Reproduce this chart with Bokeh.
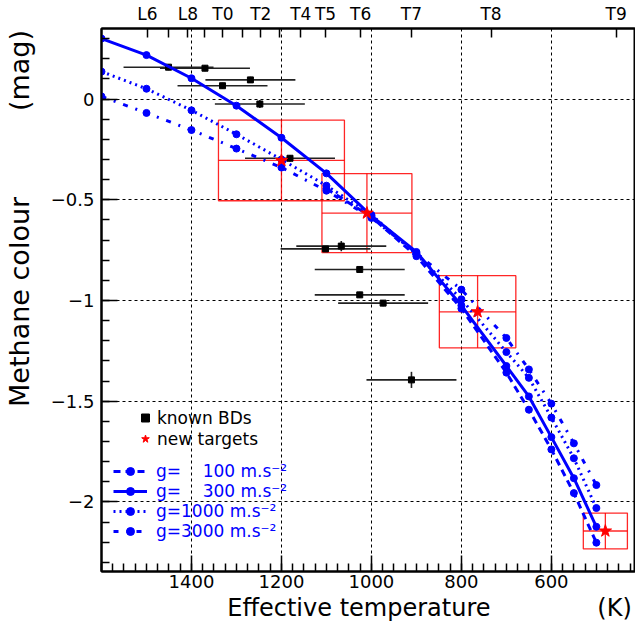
import numpy as np
from bokeh.plotting import figure
from bokeh.models import (Range1d, LinearAxis, FixedTicker, Legend, LegendItem)
from bokeh.embed import file_html
from bokeh.resources import INLINE

# ---------------- data ----------------
teff_model = [1600, 1500, 1400, 1300, 1200, 1100, 1000, 900, 800, 700, 650, 600, 550, 500]
col_g300 = [0.300, 0.218, 0.103, -0.033, -0.192, -0.369, -0.580, -0.759, -1.025,
            -1.325, -1.476, -1.678, -1.882, -2.123]
col_g1000 = [0.136, 0.051, -0.056, -0.175, -0.300, -0.430, -0.575, -0.770, -0.994,
             -1.256, -1.384, -1.581, -1.783, -2.030]
col_g3000 = [0.013, -0.069, -0.154, -0.246, -0.340, -0.455, -0.590, -0.765, -0.946,
             -1.186, -1.342, -1.512, -1.709, -1.916]
teff_g100 = [1100, 1000, 900, 800, 700, 650, 600, 550, 500]
col_g100 = [-0.445, -0.585, -0.780, -1.040, -1.358, -1.542, -1.739, -1.956, -2.202]

bd_teff = [1451, 1370, 1269, 1331, 1248, 1181, 1067, 1102, 1026, 1026, 974, 911]
bd_teff_err = [100, 100, 100, 100, 100, 100, 100, 100, 100, 100, 100, 100]
bd_col = [0.158, 0.153, 0.095, 0.066, -0.025, -0.294, -0.730, -0.744, -0.846,
          -0.972, -1.013, -1.394]
bd_col_err = [0.015, 0.015, 0.015, 0.015, 0.02, 0.016, 0.025, 0.01, 0.01,
              0.015, 0.015, 0.04]

nt_teff = [1200, 1010, 764, 480]
nt_teff_err = [140, 100, 85, 49]
nt_col = [-0.305, -0.566, -1.056, -2.144]
nt_col_err = [0.200, 0.196, 0.179, 0.089]

sp_teff = [1498, 1451, 1408, 1370, 1330, 1287, 1246, 1205, 1157, 1102, 1024, 911, 734, 456]
sp_labels = ["L6", "", "L8", "", "T0", "", "T2", "", "T4", "T5", "T6", "T7", "T8", "T9"]

x_ticks = [1400, 1200, 1000, 800, 600]
x_minor = list(range(400, 1601, 25))
y_ticks = [0, -0.5, -1, -1.5, -2]
y_tick_labels = ["0", "\u22120.5", "\u22121", "\u22121.5", "\u22122"]
y_minor = [round(v, 1) for v in np.arange(-2.3, 0.35, 0.1)]

x_title = "Effective temperature"
x_unit = "(K)"
y_title = "Methane colour"
y_unit = "(mag)"

FONT = "DejaVu Sans"
BLUE = "#0000ff"
RED = "#ff0000"
NB = "\u00a0"

p = figure(width=635, height=627, x_range=Range1d(1600, 413), y_range=Range1d(-2.345, 0.35),
           output_backend="svg", toolbar_location=None,
           min_border_left=101, min_border_right=0, min_border_top=25, min_border_bottom=56)
p.outline_line_color = "black"
p.outline_line_width = 2
p.outline_line_alpha = 1

xa = p.xaxis[0]
ya = p.yaxis[0]
xa.ticker = FixedTicker(ticks=x_ticks, minor_ticks=x_minor)
ya.ticker = FixedTicker(ticks=y_ticks, minor_ticks=y_minor)
ya.major_label_overrides = dict(zip(y_ticks, y_tick_labels))
xa.axis_label = NB * 16 + x_title + NB * 14 + x_unit
ya.axis_label = NB * 19 + y_title + NB * 10 + y_unit
for ax in (xa, ya):
    ax.axis_line_width = 2
    ax.axis_line_color = "black"
    ax.major_tick_in = 16
    ax.major_tick_out = 0
    ax.minor_tick_in = 8
    ax.minor_tick_out = 0
    ax.major_tick_line_width = 1.5
    ax.minor_tick_line_width = 1.5
    ax.major_tick_line_color = "black"
    ax.minor_tick_line_color = "black"
    ax.major_label_text_font = FONT
    ax.major_label_text_font_size = "18px"
    ax.major_label_text_color = "black"
    ax.axis_label_text_font = FONT
    ax.axis_label_text_font_style = "normal"
    ax.axis_label_text_color = "black"
xa.axis_label_text_font_size = "24px"
ya.axis_label_text_font_size = "27px"
xa.major_label_standoff = 3
xa.axis_label_standoff = 3
ya.major_label_standoff = 7
ya.axis_label_standoff = 13

top = LinearAxis(ticker=FixedTicker(ticks=sp_teff),
                 major_label_overrides=dict(zip(sp_teff, sp_labels)))
top.axis_line_width = 2
top.major_tick_in = 9
top.major_tick_out = 0
top.major_tick_line_width = 1.5
top.minor_tick_line_color = None
top.major_label_standoff = 5
top.major_label_text_font = FONT
top.major_label_text_font_size = "17px"
top.major_label_text_color = "black"
p.add_layout(top, "above")

for g in (p.xgrid[0], p.ygrid[0]):
    g.grid_line_color = "black"
    g.grid_line_dash = "3 3"
    g.grid_line_width = 1
    g.grid_line_alpha = 1

# ---- new targets boxes ----
nt_t = np.array(nt_teff, float); nt_te = np.array(nt_teff_err, float)
nt_c = np.array(nt_col, float); nt_ce = np.array(nt_col_err, float)
p.quad(left=nt_t + nt_te, right=nt_t - nt_te, bottom=nt_c - nt_ce, top=nt_c + nt_ce,
       fill_color=None, line_color=RED, line_width=1.3, line_alpha=0.85)
p.segment(x0=nt_t + nt_te, x1=nt_t - nt_te, y0=nt_c, y1=nt_c,
          line_color=RED, line_width=1.3, line_alpha=0.85)
p.segment(x0=nt_t, x1=nt_t, y0=nt_c - nt_ce, y1=nt_c + nt_ce,
          line_color=RED, line_width=1.3, line_alpha=0.85)

# ---- known BDs ----
bt = np.array(bd_teff, float); bte = np.array(bd_teff_err, float)
bc = np.array(bd_col, float); bce = np.array(bd_col_err, float)
p.segment(x0=bt + bte, x1=bt - bte, y0=bc, y1=bc, line_color="#222222", line_width=1.6)
p.segment(x0=bt, x1=bt, y0=bc - bce, y1=bc + bce, line_color="#222222", line_width=1.6)
r_bd = p.scatter(bt, bc, marker="square", size=6, color="black")

# ---- models ----
r_l100 = p.line(teff_g100, col_g100, line_color=BLUE, line_width=3, line_dash="7 5")
r_s100 = p.scatter(teff_g100, col_g100, marker="circle", size=7, color=BLUE)
r_l300 = p.line(teff_model, col_g300, line_color=BLUE, line_width=3)
r_s300 = p.scatter(teff_model, col_g300, marker="circle", size=7, color=BLUE)
r_l1000 = p.line(teff_model, col_g1000, line_color=BLUE, line_width=3, line_dash="2 4")
r_s1000 = p.scatter(teff_model, col_g1000, marker="circle", size=7, color=BLUE)
r_l3000 = p.line(teff_model, col_g3000, line_color=BLUE, line_width=3, line_dash="5 8 2 8")
r_s3000 = p.scatter(teff_model, col_g3000, marker="circle", size=7, color=BLUE)

r_nt = p.scatter(nt_t, nt_c, marker="star", size=13, color=RED)

# ---- legends ----
leg1 = Legend(items=[LegendItem(label="known BDs", renderers=[r_bd]),
                     LegendItem(label="new targets", renderers=[r_nt])],
              location=(34, 122), padding=0, margin=0, spacing=0,
              glyph_width=20, glyph_height=21, label_height=21, label_standoff=2,
              background_fill_alpha=0, border_line_alpha=0,
              label_text_font=FONT, label_text_font_size="17px", label_text_color="black")
p.add_layout(leg1)

sp2 = "\u2007\u2007"
leg2 = Legend(items=[LegendItem(label="g=" + sp2 + "100 m.s\u207b\u00b2", renderers=[r_l100, r_s100]),
                     LegendItem(label="g=" + sp2 + "300 m.s\u207b\u00b2", renderers=[r_l300, r_s300]),
                     LegendItem(label="g=1000 m.s\u207b\u00b2", renderers=[r_l1000, r_s1000]),
                     LegendItem(label="g=3000 m.s\u207b\u00b2", renderers=[r_l3000, r_s3000])],
              location=(12, 30), padding=0, margin=0, spacing=0,
              glyph_width=34, glyph_height=20, label_height=20, label_standoff=9,
              background_fill_alpha=0, border_line_alpha=0,
              label_text_font=FONT, label_text_font_size="17px", label_text_color=BLUE)
p.add_layout(leg2)

open("out.html", "w").write(file_html(p, INLINE))
